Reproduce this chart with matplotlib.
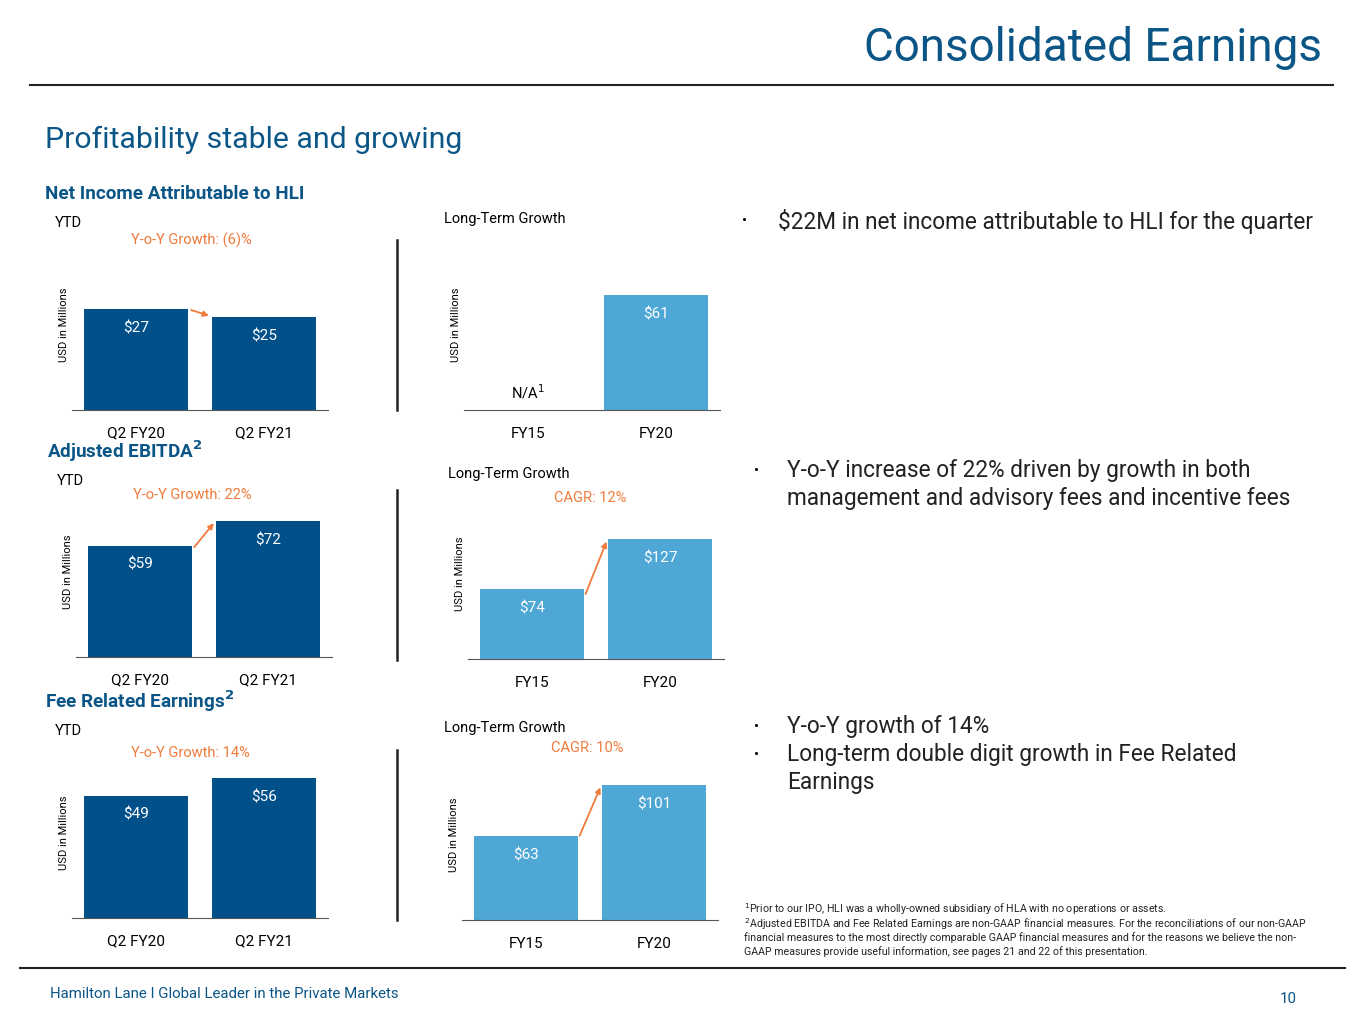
import matplotlib
matplotlib.use("Agg")
import matplotlib.pyplot as plt

plt.rcParams['font.family'] = ['Roboto', 'DejaVu Sans']

W, H = 1365, 1024
dark = '#02508a'
light = '#4fa7d6'
orange = '#f07b3b'
navy = '#0b5687'

# data
ytd_labels = ['Q2 FY20', 'Q2 FY21']
lt_labels = ['FY15', 'FY20']
net_income_ytd = [27, 25]
net_income_lt = [0, 61]
ebitda_ytd = [59, 72]
ebitda_lt = [74, 127]
fre_ytd = [49, 56]
fre_lt = [63, 101]

fig = plt.figure(figsize=(W / 100, H / 100), dpi=100)
bg = fig.add_axes([0, 0, 1, 1])
bg.set_xlim(0, W)
bg.set_ylim(H, 0)
bg.axis('off')


def panel(x0, base, ymax, labels, vals, color, na=False, arrow=None):
    ax = fig.add_axes([x0 / W, 1 - base / H, 256 / W, 170 / H])
    ax.patch.set_alpha(0)
    bars = ax.bar(range(len(vals)), vals, width=0.82, color=color)
    ax.set_xlim(-0.5, 1.5)
    ax.set_ylim(0, ymax)
    for s in ['top', 'right', 'left']:
        ax.spines[s].set_visible(False)
    ax.spines['bottom'].set_color('#555555')
    ax.set_yticks([])
    ax.set_xticks(range(len(vals)))
    ax.set_xticklabels(labels, fontsize=11)
    ax.tick_params(axis='x', length=0, pad=12)
    ax.set_ylabel('USD in Millions', fontsize=8, labelpad=2)
    for i, (b, v) in enumerate(zip(bars, vals)):
        if na and v == 0:
            ax.text(i, ymax * 0.05, 'N/A$^1$', ha='center', va='bottom', fontsize=10.5)
        else:
            ax.annotate(f'${v}', (i, v), xytext=(0, -14), textcoords='offset points',
                        ha='center', va='center', color='white', fontsize=11)
    if arrow is not None:
        ax.annotate('', xy=(0.59, vals[1]), xytext=(0.41, vals[0] - arrow),
                    arrowprops=dict(arrowstyle='-|>', color=orange, lw=1.3, mutation_scale=8))
    return ax


panel(72, 410, 45.5, ytd_labels, net_income_ytd, dark, arrow=0)
panel(464, 410, 90, lt_labels, net_income_lt, light, na=True)
panel(76, 657, 90, ytd_labels, ebitda_ytd, dark, arrow=2)
panel(468, 659, 180, lt_labels, ebitda_lt, light, arrow=8)
panel(72, 918, 68, ytd_labels, fre_ytd, dark)
panel(462, 920, 127, lt_labels, fre_lt, light, arrow=2)

# header
bg.text(1322, 48, 'Consolidated Earnings', ha='right', va='center', fontsize=33, color=navy)
bg.plot([30, 1333], [85, 85], color='#222222', lw=1.5)
bg.text(45, 140, 'Profitability stable and growing', va='center', fontsize=21.8, color=navy)

# section titles
bg.text(45, 194, 'Net Income Attributable to HLI', va='center', fontsize=13.6, weight='bold', color=navy)
bg.text(47, 451, 'Adjusted EBITDA$^\\mathbf{2}$', va='center', fontsize=13.6, weight='bold', color=navy)
bg.text(45, 701, 'Fee Related Earnings$^\\mathbf{2}$', va='center', fontsize=13.6, weight='bold', color=navy)

for y, x in [(223, 55), (481, 57), (731, 55)]:
    bg.text(x, y, 'YTD', va='center', fontsize=10.5)
for y, x in [(219, 444), (474, 448), (728, 444)]:
    bg.text(x, y, 'Long-Term Growth', va='center', fontsize=10.5)
bg.text(131, 240, 'Y-o-Y Growth: (6)%', va='center', fontsize=10.5, color=orange)
bg.text(133, 495, 'Y-o-Y Growth: 22%', va='center', fontsize=10.5, color=orange)
bg.text(131, 753, 'Y-o-Y Growth: 14%', va='center', fontsize=10.5, color=orange)
bg.text(554, 498, 'CAGR: 12%', va='center', fontsize=10.5, color=orange)
bg.text(551, 748, 'CAGR: 10%', va='center', fontsize=10.5, color=orange)

for y0, y1 in [(240, 410), (490, 660), (750, 920)]:
    bg.plot([397, 397], [y0, y1], color='#222222', lw=1.8)

# bullets
bull = dict(va='center', fontsize=16.3, color='#222222')
bg.text(742, 221, '•', fontsize=11, va='center')
bg.text(778, 221, '$22M in net income attributable to HLI for the quarter', **bull)
bg.text(754, 471, '•', fontsize=11, va='center')
bg.text(787, 471, 'Y-o-Y increase of 22% driven by growth in both', **bull)
bg.text(787, 498, 'management and advisory fees and incentive fees', **bull)
bg.text(754, 727, '•', fontsize=11, va='center')
bg.text(787, 727, 'Y-o-Y growth of 14%', **bull)
bg.text(754, 755, '•', fontsize=11, va='center')
bg.text(787, 755, 'Long-term double digit growth in Fee Related', **bull)
bg.text(787, 782, 'Earnings', **bull)

foot = dict(va='center', fontsize=7.7, color='#222222')
bg.text(744, 909, '$^1$Prior to our IPO, HLI was a wholly-owned subsidiary of HLA with no operations or assets.', **foot)
bg.text(744, 924, '$^2$Adjusted EBITDA and Fee Related Earnings are non-GAAP financial measures. For the reconciliations of our non-GAAP', **foot)
bg.text(744, 938, 'financial measures to the most directly comparable GAAP financial measures and for the reasons we believe the non-', **foot)
bg.text(744, 952, 'GAAP measures provide useful information, see pages 21 and 22 of this presentation.', **foot)

bg.plot([20, 1345], [968, 968], color='#222222', lw=1.5)
bg.text(50, 994, 'Hamilton Lane I Global Leader in the Private Markets', va='center', fontsize=10.8, color=navy)
bg.text(1297, 999, '10', ha='right', va='center', fontsize=10.8, color=navy)

fig.savefig('out.png', dpi=100)
